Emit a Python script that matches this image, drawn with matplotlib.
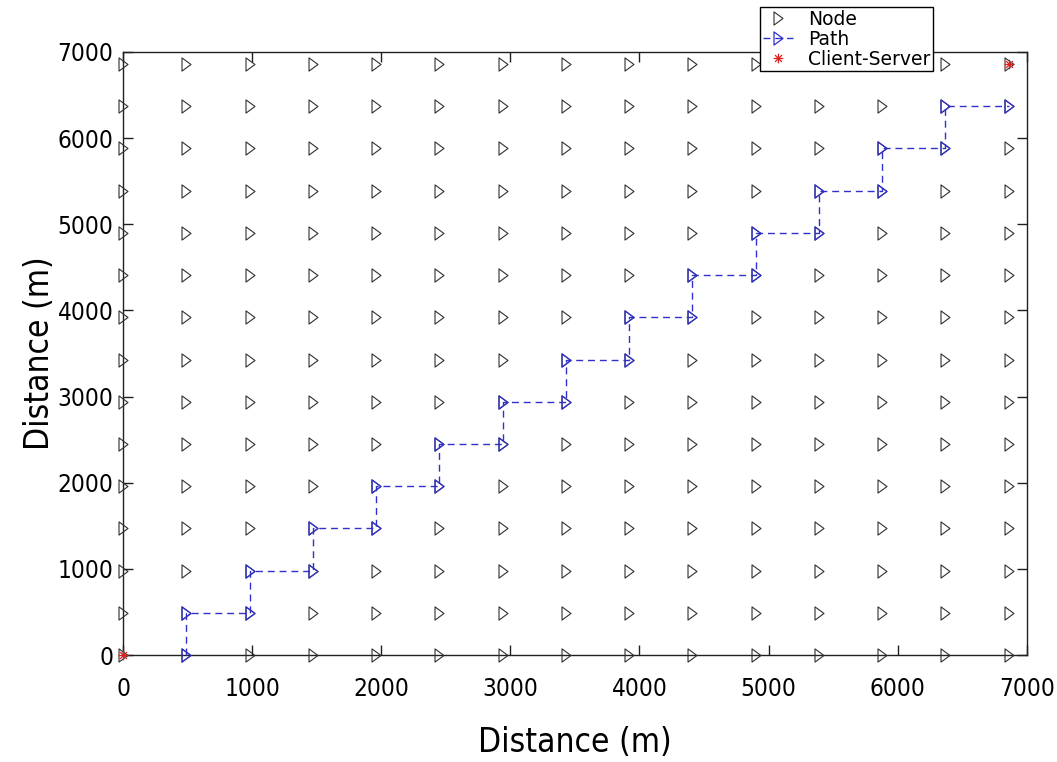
import numpy as np
import matplotlib
matplotlib.use("Agg")
import matplotlib.pyplot as plt
from matplotlib.path import Path
from matplotlib.lines import Line2D

# Node grid coordinates (m)
node_coords = [0, 490, 980, 1470, 1960, 2450, 2940, 3430, 3920, 4410,
               4900, 5390, 5880, 6370, 6860]

# Routed path through the grid (m)
path_x = [490, 490, 980, 980, 1470, 1470, 1960, 1960, 2450, 2450, 2940, 2940,
          3430, 3430, 3920, 3920, 4410, 4410, 4900, 4900, 5390, 5390, 5880, 5880,
          6370, 6370, 6860]
path_y = [0, 490, 490, 980, 980, 1470, 1470, 1960, 1960, 2450, 2450, 2940,
          2940, 3430, 3430, 3920, 3920, 4410, 4410, 4900, 4900, 5390, 5390, 5880,
          5880, 6370, 6370]

# Client and server positions (m)
endpoints_x = [0, 6860]
endpoints_y = [0, 6860]

tick_values = [0, 1000, 2000, 3000, 4000, 5000, 6000, 7000]
tick_labels = ["0", "1000", "2000", "3000", "4000", "5000", "6000", "7000"]

# Narrow right-pointing triangle marker
tri = Path([(-0.68, -1.0), (0.68, 0.0), (-0.68, 1.0), (-0.68, -1.0)],
           [Path.MOVETO, Path.LINETO, Path.LINETO, Path.CLOSEPOLY])

# Line asterisk marker
d = 0.7071
star = Path([(-1, 0), (1, 0), (0, -1), (0, 1), (-d, -d), (d, d), (-d, d), (d, -d)],
            [Path.MOVETO, Path.LINETO] * 4)

node_color = "#303030"
path_color = "#3030cc"
end_color = "#e02020"

fig = plt.figure(figsize=(10.57, 7.62), dpi=100)
ax = fig.add_axes([0.1164, 0.1404, 0.855, 0.7914])

gx, gy = np.meshgrid(node_coords, node_coords)
ax.plot(gx.ravel(), gy.ravel(), linestyle="none", marker=tri, markersize=9.5,
        markerfacecolor="none", markeredgecolor=node_color, markeredgewidth=0.8,
        clip_on=False, zorder=3)

ax.plot(path_x, path_y, color=path_color, linestyle=(0, (5, 3.5)), linewidth=1.0,
        marker=tri, markersize=9.5, markerfacecolor="none",
        markeredgecolor=path_color, markeredgewidth=0.9, clip_on=False, zorder=4)

ax.plot(endpoints_x, endpoints_y, linestyle="none", marker=star, markersize=7,
        markerfacecolor="none", markeredgecolor=end_color, markeredgewidth=0.9,
        clip_on=False, zorder=5)

ax.set_xlim(0, 7000)
ax.set_ylim(0, 7000)
ax.set_xticks(tick_values)
ax.set_yticks(tick_values)
tick_font = dict(family="DejaVu Sans", stretch="condensed", size=17.5)
ax.set_xticklabels(tick_labels, fontdict=tick_font)
ax.set_yticklabels(tick_labels, fontdict=tick_font)
ax.tick_params(direction="in", length=7, width=1.0, color="#202020",
               top=True, right=True, pad=7)
ax.tick_params(axis="x", pad=16)
for sp in ax.spines.values():
    sp.set_color("#202020")
    sp.set_linewidth(1.0)

label_font = dict(family="DejaVu Sans", stretch="condensed", size=24)
ax.set_xlabel("Distance (m)", fontdict=label_font, labelpad=18)
ax.set_ylabel("Distance (m)", fontdict=label_font, labelpad=1)

handles = [
    Line2D([], [], linestyle="none", marker=tri, markersize=9.5,
           markerfacecolor="none", markeredgecolor=node_color, markeredgewidth=0.8),
    Line2D([], [], color=path_color, linestyle=(0, (5, 3.5)), linewidth=1.0,
           marker=tri, markersize=9.5, markerfacecolor="none",
           markeredgecolor=path_color, markeredgewidth=0.9),
    Line2D([], [], linestyle="none", marker=star, markersize=7,
           markerfacecolor="none", markeredgecolor=end_color, markeredgewidth=0.9),
]
leg = fig.legend(handles, ["Node", "Path", "Client-Server"], loc="upper left",
                 bbox_to_anchor=(0.719, 0.991), fontsize=13.5, frameon=True,
                 fancybox=False, edgecolor="black", framealpha=1,
                 labelspacing=0.05, borderpad=0.15, handlelength=1.6,
                 handletextpad=0.8, borderaxespad=0)
leg.get_frame().set_linewidth(1.0)
leg.set_zorder(10)

fig.savefig("out.png", dpi=100)
